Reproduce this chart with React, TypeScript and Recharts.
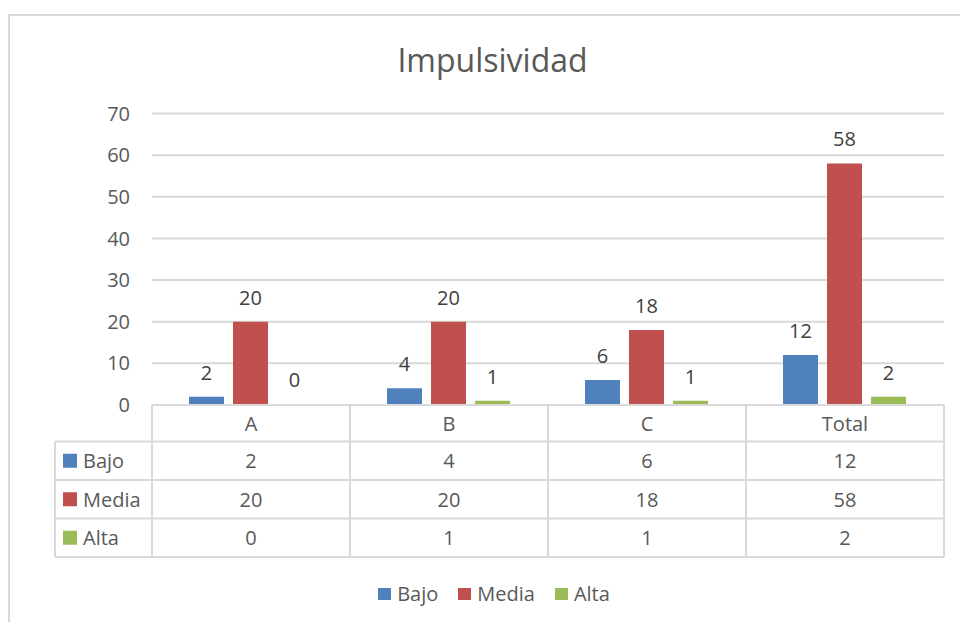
import React from 'react';
import { BarChart, Bar, XAxis, YAxis, CartesianGrid, LabelList, Legend, Rectangle } from 'recharts';

const categories = ['A', 'B', 'C', 'Total'];
const bajo = [2, 4, 6, 12];
const media = [20, 20, 18, 58];
const alta = [0, 1, 1, 2];
const yTicks = [0, 10, 20, 30, 40, 50, 60, 70];
const seriesNames = ['Bajo', 'Media', 'Alta'];
const seriesValues = [bajo, media, alta];
const seriesColors = ['#4F81BD', '#C0504D', '#9BBB59'];

const data = categories.map((c, i) => ({ name: c, Bajo: bajo[i], Media: media[i], Alta: alta[i] }));

const W = 960;
const H = 622;
const PLOT_LEFT = 152;
const PLOT_RIGHT = 944;
const PLOT_TOP = 113.5;
const PLOT_BOTTOM = 405;
const Y_AXIS_W = 40;
const TABLE_ROWS = [405, 441.5, 480, 518.5, 557];
const TABLE_LEFT = 55;
const BAND = (PLOT_RIGHT - PLOT_LEFT) / categories.length;
const FONT = '"Open Sans", sans-serif';
const TEXT = '#595959';
const LINE = '#d9d9d9';

const TableTick = (props: any) => {
  const { x, payload } = props;
  const idx = payload.index;
  const left = x - BAND / 2;
  const right = x + BAND / 2;
  const els: any[] = [];
  TABLE_ROWS.forEach((ry, i) => {
    els.push(<line key={'h' + i} x1={left} x2={right} y1={ry} y2={ry} stroke={LINE} strokeWidth={2} />);
  });
  els.push(<line key="vl" x1={left} x2={left} y1={TABLE_ROWS[0]} y2={TABLE_ROWS[4]} stroke={LINE} strokeWidth={2} />);
  els.push(<line key="vr" x1={right} x2={right} y1={TABLE_ROWS[0]} y2={TABLE_ROWS[4]} stroke={LINE} strokeWidth={2} />);
  els.push(
    <text key="cat" x={x} y={(TABLE_ROWS[0] + TABLE_ROWS[1]) / 2} textAnchor="middle" dominantBaseline="central" fill={TEXT} fontSize={20} fontFamily={FONT}>
      {payload.value}
    </text>
  );
  seriesValues.forEach((vals, s) => {
    els.push(
      <text key={'v' + s} x={x} y={(TABLE_ROWS[s + 1] + TABLE_ROWS[s + 2]) / 2} textAnchor="middle" dominantBaseline="central" fill={TEXT} fontSize={20} fontFamily={FONT}>
        {vals[idx]}
      </text>
    );
  });
  if (idx === 0) {
    for (let i = 1; i < TABLE_ROWS.length; i++) {
      els.push(<line key={'lh' + i} x1={TABLE_LEFT} x2={left} y1={TABLE_ROWS[i]} y2={TABLE_ROWS[i]} stroke={LINE} strokeWidth={2} />);
    }
    els.push(<line key="lv" x1={TABLE_LEFT} x2={TABLE_LEFT} y1={TABLE_ROWS[1]} y2={TABLE_ROWS[4]} stroke={LINE} strokeWidth={2} />);
    seriesNames.forEach((n, s) => {
      const cy = (TABLE_ROWS[s + 1] + TABLE_ROWS[s + 2]) / 2;
      els.push(<rect key={'ls' + s} x={TABLE_LEFT + 8} y={cy - 7} width={14} height={14} fill={seriesColors[s]} />);
      els.push(
        <text key={'ln' + s} x={TABLE_LEFT + 28} y={cy} dominantBaseline="central" fill={TEXT} fontSize={20} fontFamily={FONT}>
          {n}
        </text>
      );
    });
  }
  return <g>{els}</g>;
};

const BarShape = (props: any) => {
  if (props.value === 0 || (Array.isArray(props.value) && props.value[1] - props.value[0] === 0)) return <g />;
  return <Rectangle {...props} />;
};

const LegendContent = () => (
  <div style={{ display: 'flex', justifyContent: 'center', alignItems: 'center', fontFamily: FONT, fontSize: 20, color: TEXT, paddingLeft: 28 }}>
    {seriesNames.map((n, i) => (
      <div key={n} style={{ display: 'flex', alignItems: 'center', marginRight: i < 2 ? 20 : 0 }}>
        <span style={{ display: 'inline-block', width: 13, height: 12, background: seriesColors[i], marginRight: 6 }} />
        <span>{n}</span>
      </div>
    ))}
  </div>
);

export default function App() {
  return (
    <div style={{ position: 'absolute', left: 0, top: 0, width: W, height: H, background: '#fff', overflow: 'hidden' }}>
      <div style={{ position: 'absolute', left: 8, top: 13.5, width: W, height: H, border: `2px solid ${LINE}`, boxSizing: 'border-box' }} />
      <div style={{ position: 'absolute', left: 0, top: 38, width: 985, textAlign: 'center', fontFamily: FONT, fontSize: 32, color: TEXT }}>
        Impulsividad
      </div>
      <div style={{ position: 'absolute', left: 0, top: 0 }}>
        <BarChart
          width={W}
          height={H}
          data={data}
          margin={{ top: PLOT_TOP, left: PLOT_LEFT - Y_AXIS_W, right: W - PLOT_RIGHT, bottom: 0 }}
          barCategoryGap={37}
          barGap={9}
        >
          <CartesianGrid vertical={false} stroke={LINE} strokeWidth={2} />
          <XAxis
            dataKey="name"
            axisLine={false}
            tickLine={false}
            height={H - PLOT_BOTTOM}
            tick={<TableTick />}
            interval={0}
          />
          <YAxis
            width={Y_AXIS_W}
            domain={[0, 70]}
            ticks={yTicks}
            axisLine={false}
            tickLine={false}
            tickMargin={16}
            tick={{ fill: TEXT, fontSize: 20, fontFamily: FONT }}
          />
          <Legend verticalAlign="middle" align="center" wrapperStyle={{ top: 580, left: 0, width: W }} content={<LegendContent />} />
          {seriesNames.map((n, i) => (
            <Bar key={n} dataKey={n} fill={seriesColors[i]} isAnimationActive={false} minPointSize={1} shape={<BarShape />}>
              <LabelList dataKey={n} position="top" offset={17} fill="#404040" fontSize={20} fontFamily={FONT} />
            </Bar>
          ))}
        </BarChart>
      </div>
    </div>
  );
}
